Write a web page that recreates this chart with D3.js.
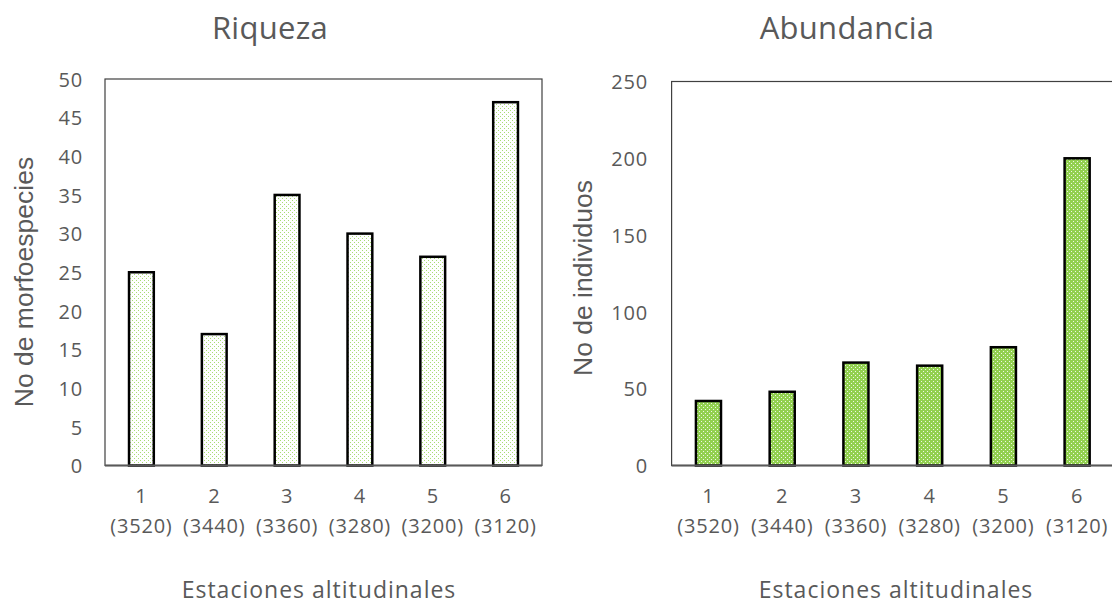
<!DOCTYPE html>
<html>
<head>
<meta charset="utf-8">
<script src="https://cdn.jsdelivr.net/npm/d3@7"></script>
<style>
  body { margin: 0; background: #fff; }
  svg text { fill: #595959; }
  .tick-label { font-family: "Open Sans", sans-serif; font-size: 20px; letter-spacing: 0.8px; }
  .title { font-family: "Open Sans", sans-serif; font-size: 31px; letter-spacing: 0.3px; }
  .y-title { font-family: "Liberation Sans", Arial, sans-serif; font-size: 26.5px; }
  .x-title { font-family: "Open Sans", sans-serif; font-size: 23px; letter-spacing: 1px; }
</style>
</head>
<body>
<div id="chart"></div>
<script>
// data
var stations = ["1", "2", "3", "4", "5", "6"];
var altitudes = ["(3520)", "(3440)", "(3360)", "(3280)", "(3200)", "(3120)"];
var riqueza = [25, 17, 35, 30, 27, 47];
var abundancia = [42, 48, 67, 65, 77, 200];
var riquezaTicks = [0, 5, 10, 15, 20, 25, 30, 35, 40, 45, 50];
var abundanciaTicks = [0, 50, 100, 150, 200, 250];

var W = 1112, H = 604;

var svg = d3.select("#chart").append("svg")
    .attr("width", W)
    .attr("height", H);

// fill patterns
var defs = svg.append("defs");

var p1 = defs.append("pattern")
    .attr("id", "dotsLight")
    .attr("patternUnits", "userSpaceOnUse")
    .attr("width", 4).attr("height", 4);
p1.append("rect").attr("width", 4).attr("height", 4).attr("fill", "#fff");
p1.append("rect").attr("x", 0).attr("y", 0).attr("width", 1).attr("height", 1).attr("fill", "#a8dc74");
p1.append("rect").attr("x", 2).attr("y", 2).attr("width", 1).attr("height", 1).attr("fill", "#a8dc74");

var p2 = defs.append("pattern")
    .attr("id", "dotsDark")
    .attr("patternUnits", "userSpaceOnUse")
    .attr("width", 4).attr("height", 4);
p2.append("rect").attr("width", 4).attr("height", 4).attr("fill", "#92d050");
p2.append("rect").attr("x", 1).attr("y", 1).attr("width", 1).attr("height", 1).attr("fill", "#eef8e4");
p2.append("rect").attr("x", 3).attr("y", 3).attr("width", 1).attr("height", 1).attr("fill", "#eef8e4");

function drawChart(cfg) {
  var g = svg.append("g");

  var x = d3.scaleBand()
      .domain(d3.range(cfg.values.length))
      .range([cfg.left, cfg.right])
      .paddingInner(0.66)
      .paddingOuter(0.33);

  var y = d3.scaleLinear()
      .domain([0, cfg.max])
      .range([cfg.bottom, cfg.top]);

  // plot frame
  g.append("rect")
      .attr("x", cfg.left)
      .attr("y", cfg.top)
      .attr("width", cfg.right - cfg.left)
      .attr("height", cfg.bottom - cfg.top)
      .attr("fill", "none")
      .attr("stroke", "#404040")
      .attr("stroke-width", 1.2);

  // y axis labels
  var yAxis = g.append("g")
      .attr("transform", "translate(" + cfg.left + ",0)")
      .call(d3.axisLeft(y).tickValues(cfg.ticks).tickSize(0).tickPadding(cfg.left - cfg.labelRight));
  yAxis.select(".domain").remove();
  yAxis.selectAll("text")
      .attr("class", "tick-label")
      .attr("fill", null)
      .attr("dy", "0.36em");

  // bars
  g.selectAll(".bar")
      .data(cfg.values)
      .enter().append("rect")
      .attr("class", "bar")
      .attr("x", function(d, i) { return x(i); })
      .attr("y", function(d) { return y(d); })
      .attr("width", x.bandwidth())
      .attr("height", function(d) { return y(0) - y(d); })
      .attr("fill", cfg.fill)
      .attr("stroke", "#000")
      .attr("stroke-width", 2.5);

  // bottom axis line
  g.append("line")
      .attr("x1", cfg.left).attr("x2", cfg.right)
      .attr("y1", cfg.bottom).attr("y2", cfg.bottom)
      .attr("stroke", "#595959")
      .attr("stroke-width", 1.8);

  // x labels, two lines
  var lab = g.selectAll(".xlab")
      .data(stations)
      .enter().append("text")
      .attr("class", "tick-label")
      .attr("text-anchor", "middle");
  lab.append("tspan")
      .attr("x", function(d, i) { return x(i) + x.bandwidth() / 2; })
      .attr("y", 503)
      .text(function(d) { return d; });
  lab.append("tspan")
      .attr("x", function(d, i) { return x(i) + x.bandwidth() / 2; })
      .attr("y", 533)
      .text(function(d, i) { return altitudes[i]; });

  // titles
  g.append("text")
      .attr("class", "title")
      .attr("x", cfg.titleX)
      .attr("y", 39)
      .attr("text-anchor", "middle")
      .text(cfg.title);

  g.append("text")
      .attr("class", "x-title")
      .attr("x", cfg.xTitleX)
      .attr("y", 598)
      .attr("text-anchor", "middle")
      .text("Estaciones altitudinales");

  g.append("text")
      .attr("class", "y-title")
      .attr("transform", "translate(" + cfg.yTitleX + "," + cfg.yTitleY + ") rotate(-90)")
      .attr("text-anchor", "middle")
      .text(cfg.yTitle);
}

drawChart({
  values: riqueza, ticks: riquezaTicks, max: 50,
  left: 105, right: 542, top: 79, bottom: 465.5,
  labelRight: 83, fill: "url(#dotsLight)",
  title: "Riqueza", titleX: 270,
  xTitleX: 319,
  yTitle: "No de morfoespecies", yTitleX: 33, yTitleY: 282
});

drawChart({
  values: abundancia, ticks: abundanciaTicks, max: 250,
  left: 671.6, right: 1114, top: 81.5, bottom: 465.5,
  labelRight: 648, fill: "url(#dotsDark)",
  title: "Abundancia", titleX: 847,
  xTitleX: 896,
  yTitle: "No de individuos", yTitleX: 592, yTitleY: 278
});
</script>
</body>
</html>
